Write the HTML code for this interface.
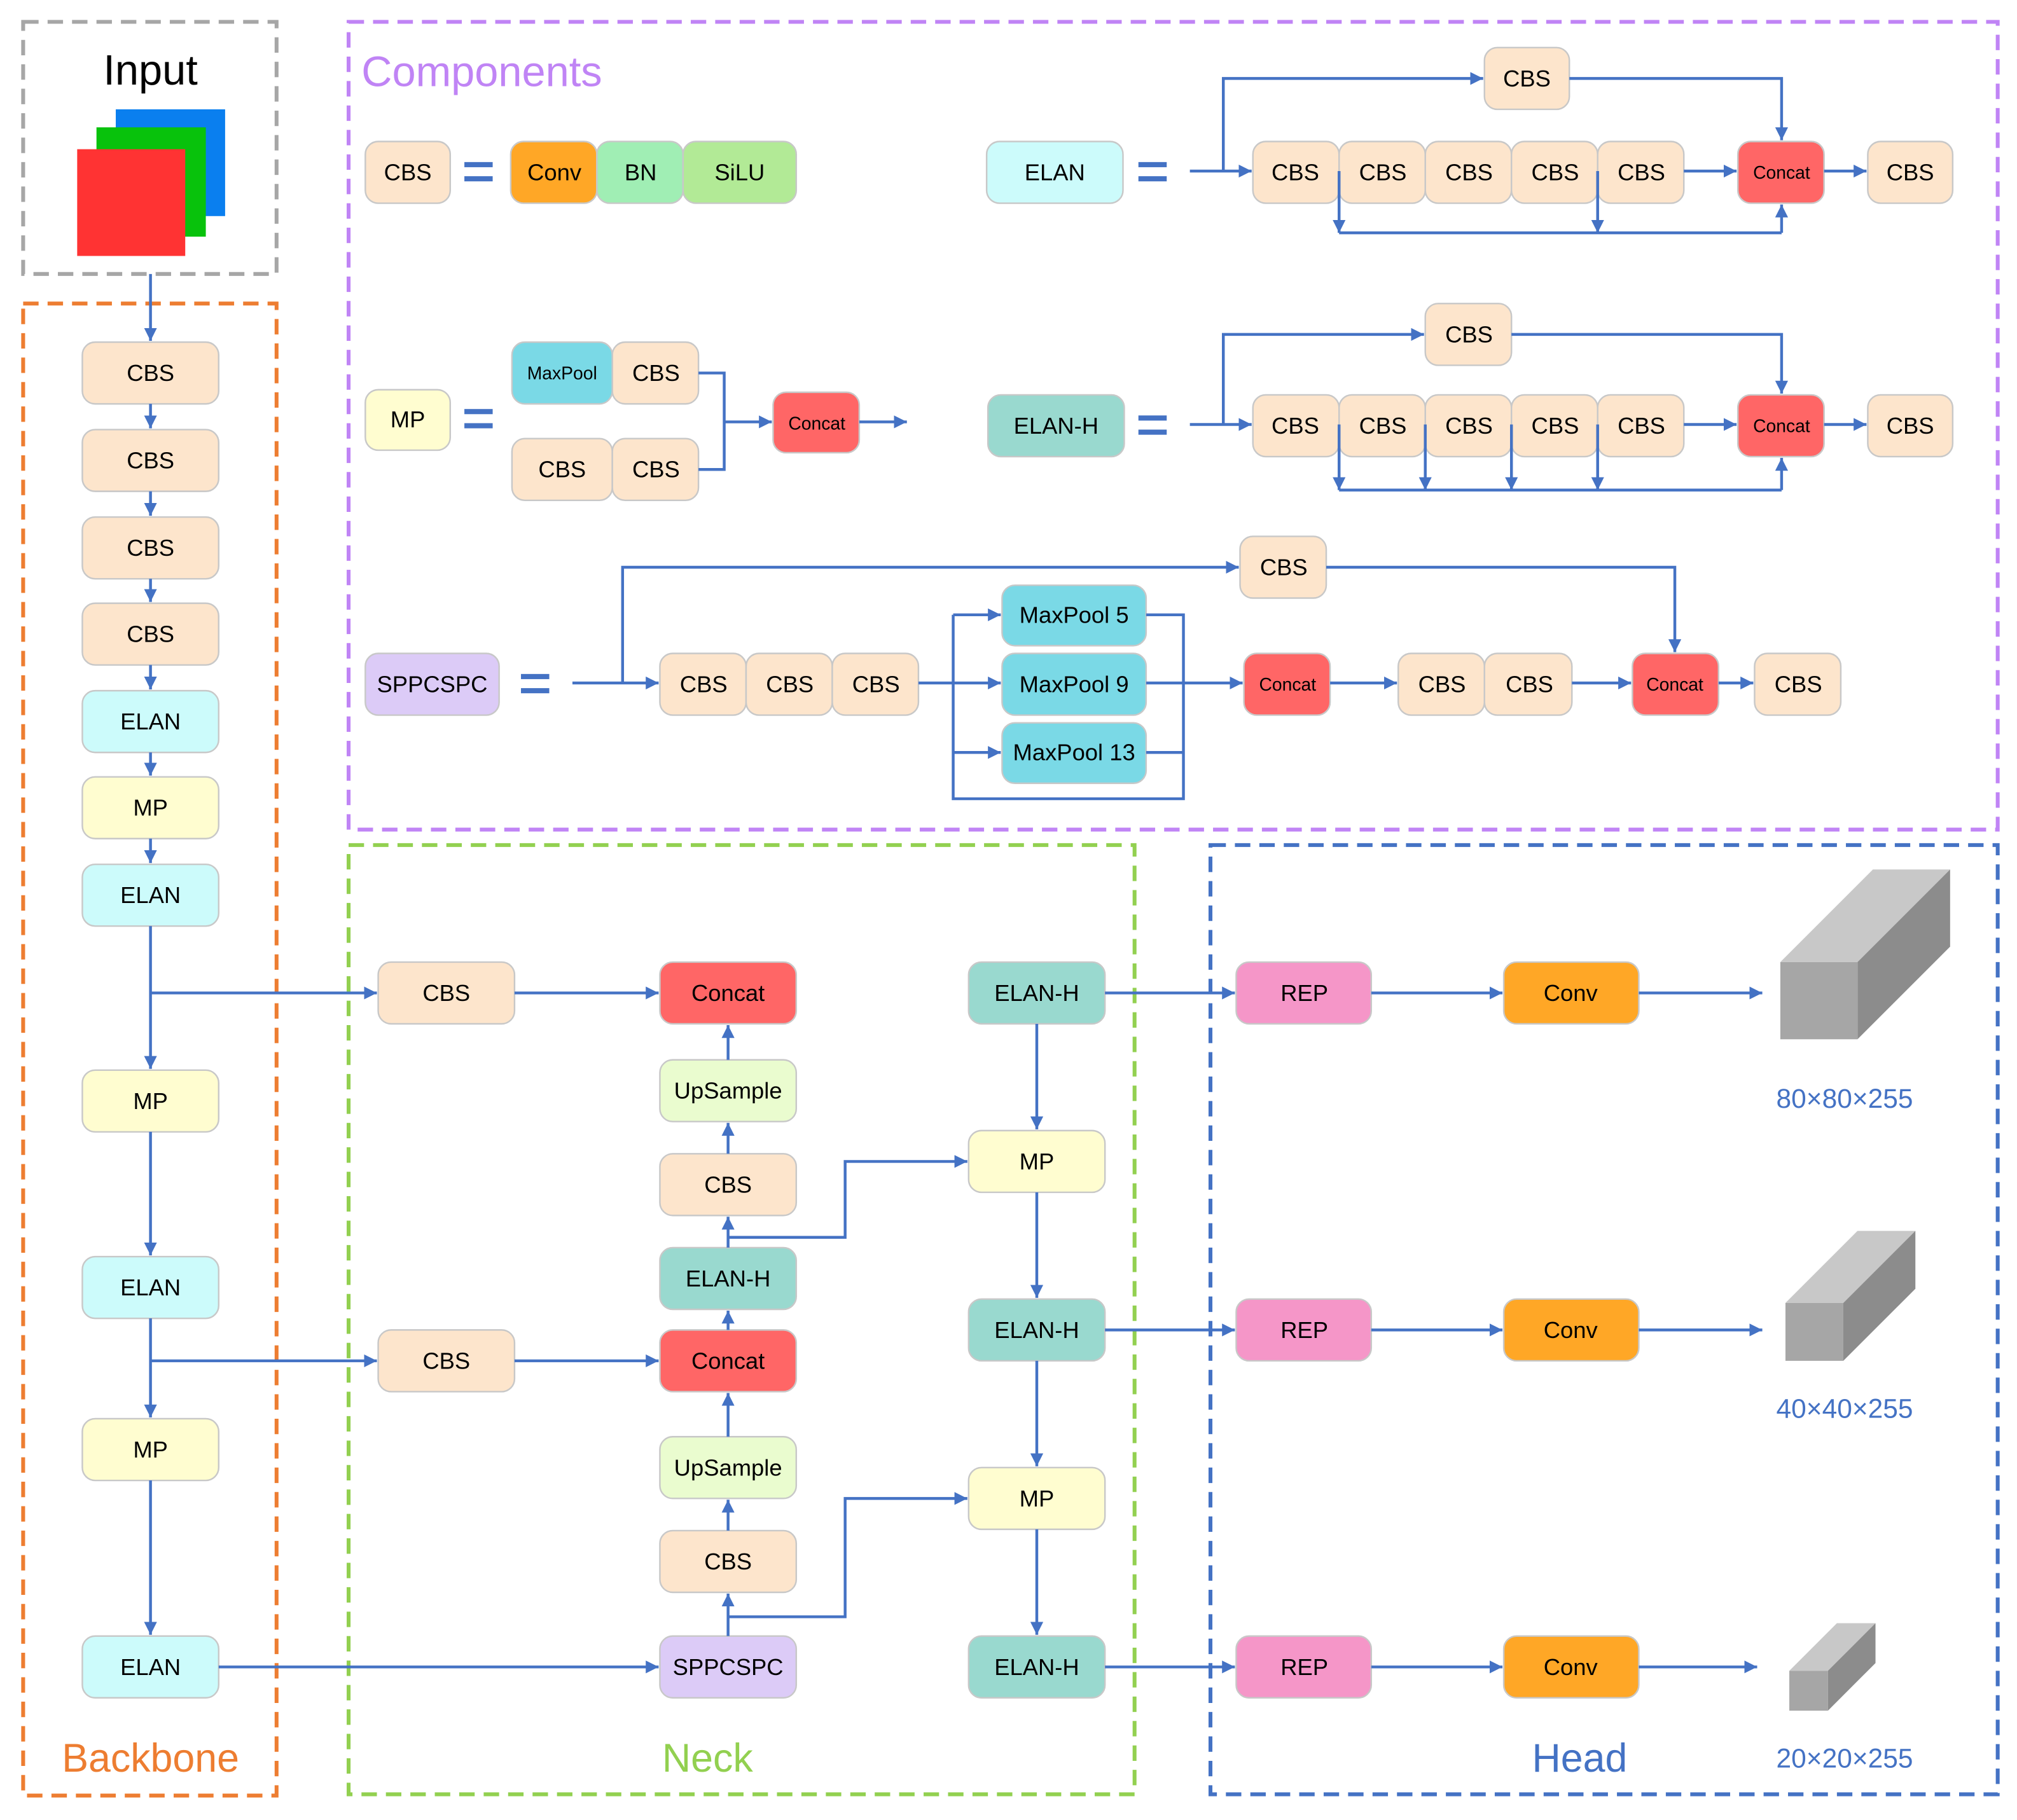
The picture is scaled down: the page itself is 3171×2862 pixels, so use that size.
<!DOCTYPE html>
<html><head><meta charset="utf-8"><style>
html,body{margin:0;padding:0;background:#fff}
svg{display:block}
text{font-family:"Liberation Sans",sans-serif;text-anchor:middle;dominant-baseline:central;fill:#000}
.b{stroke:#c8c8c8;stroke-width:1.2}
.l{stroke:#4472C4;stroke-width:2.2;fill:none}
.a{stroke:#4472C4;stroke-width:2.2;fill:none;marker-end:url(#ah)}
.t{font-size:18px}
.s{font-size:14px}
</style></head><body>
<svg width="3171" height="2862" viewBox="0 0 1568 1415" preserveAspectRatio="none" xmlns="http://www.w3.org/2000/svg">
<defs><marker id="ah" markerUnits="userSpaceOnUse" markerWidth="12" markerHeight="12" refX="10" refY="5" orient="auto"><path d="M0,0 L10,5 L0,10 z" fill="#4472C4"/></marker></defs>

<!-- dashed containers -->
<rect x="18" y="17" width="197" height="196" fill="none" stroke="#A6A6A6" stroke-width="3" stroke-dasharray="12,7"/>
<rect x="18" y="236" width="197" height="1160" fill="none" stroke="#ED7D31" stroke-width="3" stroke-dasharray="12,7"/>
<rect x="271" y="17" width="1282" height="628" fill="none" stroke="#C084F5" stroke-width="3" stroke-dasharray="12,7"/>
<rect x="271" y="657" width="611" height="738" fill="none" stroke="#92D050" stroke-width="3" stroke-dasharray="12,7"/>
<rect x="941" y="657" width="612" height="738" fill="none" stroke="#4472C4" stroke-width="3" stroke-dasharray="12,7"/>

<text x="117" y="55" style="font-size:33px">Input</text>
<rect x="90" y="85" width="85" height="83" fill="#0A7FEF"/>
<rect x="75" y="99" width="85" height="85" fill="#08C20C"/>
<rect x="60" y="116" width="84" height="83" fill="#FF3333"/>
<text x="117" y="1367" style="font-size:31px;fill:#ED7D31">Backbone</text>
<text x="281" y="56" style="font-size:33px;fill:#C084F5;text-anchor:start">Components</text>
<text x="550" y="1367" style="font-size:31px;fill:#92D050">Neck</text>
<text x="1228" y="1367" style="font-size:31px;fill:#4472C4">Head</text>

<!-- backbone -->
<g class="t">
<rect class="b" x="64" y="266" width="106" height="48" rx="10" fill="#FDE5CC"/><text x="117" y="290">CBS</text>
<rect class="b" x="64" y="334" width="106" height="48" rx="10" fill="#FDE5CC"/><text x="117" y="358">CBS</text>
<rect class="b" x="64" y="402" width="106" height="48" rx="10" fill="#FDE5CC"/><text x="117" y="426">CBS</text>
<rect class="b" x="64" y="469" width="106" height="48" rx="10" fill="#FDE5CC"/><text x="117" y="493">CBS</text>
<rect class="b" x="64" y="537" width="106" height="48" rx="10" fill="#CCFBFB"/><text x="117" y="561">ELAN</text>
<rect class="b" x="64" y="604" width="106" height="48" rx="10" fill="#FFFDD0"/><text x="117" y="628">MP</text>
<rect class="b" x="64" y="672" width="106" height="48" rx="10" fill="#CCFBFB"/><text x="117" y="696">ELAN</text>
<rect class="b" x="64" y="832" width="106" height="48" rx="10" fill="#FFFDD0"/><text x="117" y="856">MP</text>
<rect class="b" x="64" y="977" width="106" height="48" rx="10" fill="#CCFBFB"/><text x="117" y="1001">ELAN</text>
<rect class="b" x="64" y="1103" width="106" height="48" rx="10" fill="#FFFDD0"/><text x="117" y="1127">MP</text>
<rect class="b" x="64" y="1272" width="106" height="48" rx="10" fill="#CCFBFB"/><text x="117" y="1296">ELAN</text>
</g>
<path class="a" d="M117,213V265"/><path class="a" d="M117,314V333"/><path class="a" d="M117,382V401"/><path class="a" d="M117,450V468"/><path class="a" d="M117,517V536"/><path class="a" d="M117,585V603"/><path class="a" d="M117,652V671"/>
<path class="a" d="M117,720V831"/><path class="a" d="M117,772H293"/>
<path class="a" d="M117,880V976"/>
<path class="a" d="M117,1025V1102"/><path class="a" d="M117,1058H293"/>
<path class="a" d="M117,1151V1271"/>
<path class="a" d="M170,1296H512"/>

<!-- components row 1 -->
<g class="t">
<rect class="b" x="284" y="110" width="66" height="48" rx="10" fill="#FDE5CC"/><text x="317" y="134">CBS</text>
<rect class="b" x="397" y="110" width="67" height="48" rx="10" fill="#FFA726"/><text x="431" y="134">Conv</text>
<rect class="b" x="464" y="110" width="67" height="48" rx="10" fill="#A0EEB4"/><text x="498" y="134">BN</text>
<rect class="b" x="531" y="110" width="88" height="48" rx="10" fill="#B2EA96"/><text x="575" y="134">SiLU</text>
<rect class="b" x="767" y="110" width="106" height="48" rx="10" fill="#CCFBFB"/><text x="820" y="134">ELAN</text>
<rect class="b" x="974" y="110" width="67" height="48" rx="10" fill="#FDE5CC"/><text x="1007" y="134">CBS</text>
<rect class="b" x="1041" y="110" width="67" height="48" rx="10" fill="#FDE5CC"/><text x="1075" y="134">CBS</text>
<rect class="b" x="1108" y="110" width="67" height="48" rx="10" fill="#FDE5CC"/><text x="1142" y="134">CBS</text>
<rect class="b" x="1175" y="110" width="67" height="48" rx="10" fill="#FDE5CC"/><text x="1209" y="134">CBS</text>
<rect class="b" x="1242" y="110" width="67" height="48" rx="10" fill="#FDE5CC"/><text x="1276" y="134">CBS</text>
<rect class="b" x="1452" y="110" width="66" height="48" rx="10" fill="#FDE5CC"/><text x="1485" y="134">CBS</text>
<rect class="b" x="1154" y="37" width="66" height="48" rx="10" fill="#FDE5CC"/><text x="1187" y="61">CBS</text>
</g>
<rect class="b" x="1351" y="110" width="67" height="48" rx="10" fill="#FF6666"/><text class="s" x="1385" y="134">Concat</text>
<g fill="#4472C4"><rect x="361" y="126" width="22" height="4"/><rect x="361" y="137" width="22" height="4"/>
<rect x="885" y="126" width="22" height="4"/><rect x="885" y="137" width="22" height="4"/>
<rect x="361" y="318" width="22" height="4"/><rect x="361" y="329" width="22" height="4"/>
<rect x="885" y="323" width="22" height="4"/><rect x="885" y="334" width="22" height="4"/>
<rect x="405" y="524" width="22" height="4"/><rect x="405" y="535" width="22" height="4"/></g>
<path class="a" d="M925,133H973"/><path class="a" d="M951,133V61H1153"/><path class="a" d="M1220,61H1385V109"/>
<path class="a" d="M1309,133H1350"/><path class="a" d="M1418,133H1451"/>
<path class="a" d="M1041,133V181"/><path class="a" d="M1242,133V181"/><path class="l" d="M1041,181H1385"/><path class="a" d="M1385,181V159"/>

<!-- ELAN-H row -->
<g class="t">
<rect class="b" x="768" y="307" width="106" height="48" rx="10" fill="#99D9CF"/><text x="821" y="331">ELAN-H</text>
<rect class="b" x="974" y="307" width="67" height="48" rx="10" fill="#FDE5CC"/><text x="1007" y="331">CBS</text>
<rect class="b" x="1041" y="307" width="67" height="48" rx="10" fill="#FDE5CC"/><text x="1075" y="331">CBS</text>
<rect class="b" x="1108" y="307" width="67" height="48" rx="10" fill="#FDE5CC"/><text x="1142" y="331">CBS</text>
<rect class="b" x="1175" y="307" width="67" height="48" rx="10" fill="#FDE5CC"/><text x="1209" y="331">CBS</text>
<rect class="b" x="1242" y="307" width="67" height="48" rx="10" fill="#FDE5CC"/><text x="1276" y="331">CBS</text>
<rect class="b" x="1452" y="307" width="66" height="48" rx="10" fill="#FDE5CC"/><text x="1485" y="331">CBS</text>
<rect class="b" x="1108" y="236" width="67" height="48" rx="10" fill="#FDE5CC"/><text x="1142" y="260">CBS</text>
</g>
<rect class="b" x="1351" y="307" width="67" height="48" rx="10" fill="#FF6666"/><text class="s" x="1385" y="331">Concat</text>
<path class="a" d="M925,330H973"/><path class="a" d="M951,330V260H1107"/><path class="a" d="M1175,260H1385V306"/>
<path class="a" d="M1309,330H1350"/><path class="a" d="M1418,330H1451"/>
<path class="a" d="M1041,330V381"/><path class="a" d="M1108,330V381"/><path class="a" d="M1175,330V381"/><path class="a" d="M1242,330V381"/>
<path class="l" d="M1041,381H1385"/><path class="a" d="M1385,381V356"/>

<!-- MP row -->
<g class="t">
<rect class="b" x="284" y="303" width="66" height="47" rx="10" fill="#FFFDD0"/><text x="317" y="326">MP</text>
<rect class="b" x="476" y="266" width="67" height="48" rx="10" fill="#FDE5CC"/><text x="510" y="290">CBS</text>
<rect class="b" x="398" y="341" width="78" height="48" rx="10" fill="#FDE5CC"/><text x="437" y="365">CBS</text>
<rect class="b" x="476" y="341" width="67" height="48" rx="10" fill="#FDE5CC"/><text x="510" y="365">CBS</text>
</g>
<rect class="b" x="398" y="266" width="78" height="48" rx="10" fill="#7AD9E6"/><text class="s" x="437" y="290">MaxPool</text>
<rect class="b" x="601" y="305" width="67" height="47" rx="10" fill="#FF6666"/><text class="s" x="635" y="329">Concat</text>
<path class="l" d="M543,290H563V365H543"/><path class="a" d="M563,328H600"/><path class="a" d="M668,328H705"/>

<!-- SPPCSPC row -->
<g class="t">
<rect class="b" x="284" y="508" width="104" height="48" rx="10" fill="#DCCBF7"/><text x="336" y="532">SPPCSPC</text>
<rect class="b" x="513" y="508" width="67" height="48" rx="10" fill="#FDE5CC"/><text x="547" y="532">CBS</text>
<rect class="b" x="580" y="508" width="67" height="48" rx="10" fill="#FDE5CC"/><text x="614" y="532">CBS</text>
<rect class="b" x="647" y="508" width="67" height="48" rx="10" fill="#FDE5CC"/><text x="681" y="532">CBS</text>
<rect class="b" x="964" y="417" width="67" height="48" rx="10" fill="#FDE5CC"/><text x="998" y="441">CBS</text>
<rect class="b" x="779" y="455" width="112" height="47" rx="10" fill="#7AD9E6"/><text x="835" y="478">MaxPool 5</text>
<rect class="b" x="779" y="508" width="112" height="48" rx="10" fill="#7AD9E6"/><text x="835" y="532">MaxPool 9</text>
<rect class="b" x="779" y="562" width="112" height="47" rx="10" fill="#7AD9E6"/><text x="835" y="585">MaxPool 13</text>
<rect class="b" x="1087" y="508" width="67" height="48" rx="10" fill="#FDE5CC"/><text x="1121" y="532">CBS</text>
<rect class="b" x="1154" y="508" width="68" height="48" rx="10" fill="#FDE5CC"/><text x="1189" y="532">CBS</text>
<rect class="b" x="1364" y="508" width="67" height="48" rx="10" fill="#FDE5CC"/><text x="1398" y="532">CBS</text>
</g>
<rect class="b" x="967" y="508" width="67" height="48" rx="10" fill="#FF6666"/><text class="s" x="1001" y="532">Concat</text>
<rect class="b" x="1269" y="508" width="67" height="48" rx="10" fill="#FF6666"/><text class="s" x="1302" y="532">Concat</text>
<path class="a" d="M445,531H512"/><path class="a" d="M484,531V441H963"/><path class="a" d="M1031,441H1302V507"/>
<path class="l" d="M714,531H741"/><path class="l" d="M741,478V621H920V478H891"/><path class="l" d="M891,585H920"/>
<path class="a" d="M741,478H778"/><path class="a" d="M741,531H778"/><path class="a" d="M741,585H778"/>
<path class="a" d="M891,531H966"/><path class="a" d="M1034,531H1086"/><path class="a" d="M1222,531H1268"/><path class="a" d="M1336,531H1363"/>

<!-- neck -->
<g class="t">
<rect class="b" x="294" y="748" width="106" height="48" rx="10" fill="#FDE5CC"/><text x="347" y="772">CBS</text>
<rect class="b" x="294" y="1034" width="106" height="48" rx="10" fill="#FDE5CC"/><text x="347" y="1058">CBS</text>
<rect class="b" x="513" y="748" width="106" height="48" rx="10" fill="#FF6666"/><text x="566" y="772">Concat</text>
<rect class="b" x="513" y="824" width="106" height="48" rx="10" fill="#EAFCCF"/><text x="566" y="848">UpSample</text>
<rect class="b" x="513" y="897" width="106" height="48" rx="10" fill="#FDE5CC"/><text x="566" y="921">CBS</text>
<rect class="b" x="513" y="970" width="106" height="48" rx="10" fill="#99D9CF"/><text x="566" y="994">ELAN-H</text>
<rect class="b" x="513" y="1034" width="106" height="48" rx="10" fill="#FF6666"/><text x="566" y="1058">Concat</text>
<rect class="b" x="513" y="1117" width="106" height="48" rx="10" fill="#EAFCCF"/><text x="566" y="1141">UpSample</text>
<rect class="b" x="513" y="1190" width="106" height="48" rx="10" fill="#FDE5CC"/><text x="566" y="1214">CBS</text>
<rect class="b" x="513" y="1272" width="106" height="48" rx="10" fill="#DCCBF7"/><text x="566" y="1296">SPPCSPC</text>
<rect class="b" x="753" y="748" width="106" height="48" rx="10" fill="#99D9CF"/><text x="806" y="772">ELAN-H</text>
<rect class="b" x="753" y="879" width="106" height="48" rx="10" fill="#FFFDD0"/><text x="806" y="903">MP</text>
<rect class="b" x="753" y="1010" width="106" height="48" rx="10" fill="#99D9CF"/><text x="806" y="1034">ELAN-H</text>
<rect class="b" x="753" y="1141" width="106" height="48" rx="10" fill="#FFFDD0"/><text x="806" y="1165">MP</text>
<rect class="b" x="753" y="1272" width="106" height="48" rx="10" fill="#99D9CF"/><text x="806" y="1296">ELAN-H</text>
</g>
<path class="a" d="M400,772H512"/><path class="a" d="M400,1058H512"/>
<path class="a" d="M566,1272V1239"/><path class="a" d="M566,1190V1166"/><path class="a" d="M566,1117V1083"/><path class="a" d="M566,1034V1019"/><path class="a" d="M566,970V946"/><path class="a" d="M566,897V873"/><path class="a" d="M566,824V797"/>
<path class="a" d="M566,962H657V903H752"/><path class="a" d="M566,1257H657V1165H752"/>
<path class="a" d="M806,796V878"/><path class="a" d="M806,927V1009"/><path class="a" d="M806,1058V1140"/><path class="a" d="M806,1189V1271"/>

<!-- head -->
<g class="t">
<rect class="b" x="961" y="748" width="105" height="48" rx="10" fill="#F596C8"/><text x="1014" y="772">REP</text>
<rect class="b" x="961" y="1010" width="105" height="48" rx="10" fill="#F596C8"/><text x="1014" y="1034">REP</text>
<rect class="b" x="961" y="1272" width="105" height="48" rx="10" fill="#F596C8"/><text x="1014" y="1296">REP</text>
<rect class="b" x="1169" y="748" width="105" height="48" rx="10" fill="#FFA726"/><text x="1221" y="772">Conv</text>
<rect class="b" x="1169" y="1010" width="105" height="48" rx="10" fill="#FFA726"/><text x="1221" y="1034">Conv</text>
<rect class="b" x="1169" y="1272" width="105" height="48" rx="10" fill="#FFA726"/><text x="1221" y="1296">Conv</text>
</g>
<path class="a" d="M859,772H960"/><path class="a" d="M859,1034H960"/><path class="a" d="M859,1296H960"/>
<path class="a" d="M1066,772H1168"/><path class="a" d="M1066,1034H1168"/><path class="a" d="M1066,1296H1168"/>
<path class="a" d="M1274,772H1370"/><path class="a" d="M1274,1034H1370"/><path class="a" d="M1274,1296H1366"/>

<polygon points="1384,748 1456,676 1516,676 1444,748" fill="#C8C8C8"/>
<polygon points="1444,748 1516,676 1516,736 1444,808" fill="#8C8C8C"/>
<rect x="1384" y="748" width="60" height="60" fill="#A6A6A6"/>
<polygon points="1388,1013 1444,957 1489,957 1433,1013" fill="#C8C8C8"/>
<polygon points="1433,1013 1489,957 1489,1002 1433,1058" fill="#8C8C8C"/>
<rect x="1388" y="1013" width="45" height="45" fill="#A6A6A6"/>
<polygon points="1391,1299 1428,1262 1458,1262 1421,1299" fill="#C8C8C8"/>
<polygon points="1421,1299 1458,1262 1458,1293 1421,1330" fill="#8C8C8C"/>
<rect x="1391" y="1299" width="30" height="31" fill="#A6A6A6"/>
<text x="1434" y="854" style="font-size:21px;fill:#4472C4">80×80×255</text>
<text x="1434" y="1095" style="font-size:21px;fill:#4472C4">40×40×255</text>
<text x="1434" y="1367" style="font-size:21px;fill:#4472C4">20×20×255</text>
</svg>
</body></html>
